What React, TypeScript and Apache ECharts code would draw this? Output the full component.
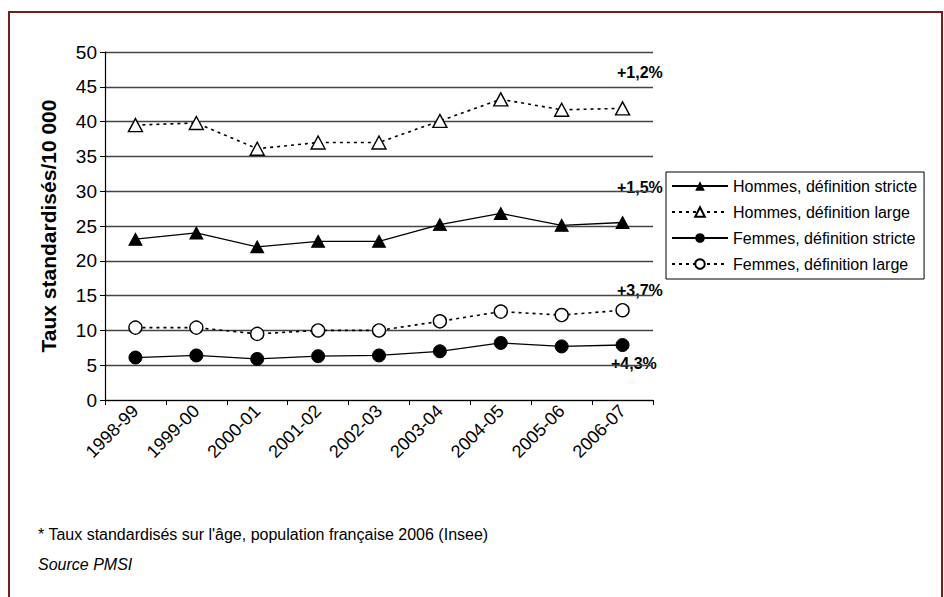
import React, { useEffect, useRef } from "react";
import * as echarts from "echarts";

// Campaign years (PMSI)
const categories = [
  "1998-99", "1999-00", "2000-01", "2001-02", "2002-03",
  "2003-04", "2004-05", "2005-06", "2006-07",
];

// Standardised rates per 10 000
const hommesStricte = [23.1, 24.0, 22.0, 22.8, 22.8, 25.2, 26.8, 25.1, 25.5];
const hommesLarge = [39.5, 39.8, 36.1, 37.0, 37.0, 40.1, 43.2, 41.7, 41.9];
const femmesStricte = [6.1, 6.4, 5.9, 6.3, 6.4, 7.0, 8.2, 7.7, 7.9];
const femmesLarge = [10.4, 10.4, 9.5, 10.0, 10.0, 11.3, 12.7, 12.2, 12.9];

const seriesNames = [
  "Hommes, définition stricte",
  "Hommes, définition large",
  "Femmes, définition stricte",
  "Femmes, définition large",
];

// Annual growth annotations
const growthLabels = ["+1,2%", "+1,5%", "+3,7%", "+4,3%"];

const yTitle = "Taux standardisés/10 000";
const footnote = "* Taux standardisés sur l'âge, population française 2006 (Insee)";
const source = "Source PMSI";

const FONT = "'Liberation Sans', Arial, sans-serif";

export default function App() {
  const ref = useRef<HTMLDivElement>(null);

  useEffect(() => {
    if (!ref.current) return;
    const chart = echarts.init(ref.current, undefined, { renderer: "svg" });

    const dotted = [3, 4];
    const solidLine = { color: "#000", width: 1.3, type: "solid" as const };
    const dottedLine = { color: "#000", width: 1.6, type: dotted };

    chart.setOption({
      animation: false,
      backgroundColor: "#fff",
      textStyle: { fontFamily: FONT },
      grid: { left: 105, right: 291, top: 52, bottom: 197, containLabel: false },
      legend: {
        orient: "vertical",
        left: 666,
        top: 172,
        padding: [6, 7, 7, 5],
        itemWidth: 56,
        itemHeight: 12,
        itemGap: 10,
        borderColor: "#000",
        borderWidth: 1,
        textStyle: { fontFamily: FONT, fontSize: 16, color: "#000" },
        data: seriesNames,
      },
      xAxis: {
        type: "category",
        data: categories,
        boundaryGap: true,
        axisLine: { lineStyle: { color: "#000", width: 1.2 } },
        axisTick: { show: true, length: 5, lineStyle: { color: "#000" } },
        axisLabel: {
          interval: 0,
          rotate: 45,
          margin: 8,
          fontSize: 18,
          color: "#000",
          fontFamily: FONT,
        },
        splitLine: { show: false },
      },
      yAxis: {
        type: "value",
        min: 0,
        max: 50,
        interval: 5,
        name: yTitle,
        nameLocation: "middle",
        nameGap: 46,
        nameTextStyle: {
          fontFamily: FONT,
          fontSize: 21,
          fontWeight: "bold",
          color: "#000",
        },
        axisLine: { show: true, lineStyle: { color: "#000", width: 1.2 } },
        axisTick: { show: true, length: 5, lineStyle: { color: "#000" } },
        axisLabel: { fontSize: 19, color: "#000", margin: 8, fontFamily: FONT },
        splitLine: { show: true, lineStyle: { color: "#444", width: 1.3 } },
      },
      series: [
        {
          name: seriesNames[0],
          type: "line",
          data: hommesStricte,
          symbol: "triangle",
          symbolSize: [13, 12],
          lineStyle: solidLine,
          itemStyle: { color: "#000", borderColor: "#000" },
        },
        {
          name: seriesNames[1],
          type: "line",
          data: hommesLarge,
          symbol: "triangle",
          symbolSize: [14, 13],
          lineStyle: dottedLine,
          itemStyle: { color: "#fff", borderColor: "#000", borderWidth: 1.4 },
        },
        {
          name: seriesNames[2],
          type: "line",
          data: femmesStricte,
          symbol: "circle",
          symbolSize: 13,
          lineStyle: solidLine,
          itemStyle: { color: "#000", borderColor: "#000" },
        },
        {
          name: seriesNames[3],
          type: "line",
          data: femmesLarge,
          symbol: "circle",
          symbolSize: 13,
          lineStyle: dottedLine,
          itemStyle: { color: "#fff", borderColor: "#000", borderWidth: 1.4 },
        },
      ],
      graphic: [
        {
          type: "rect",
          shape: { x: 9, y: 12, width: 933, height: 620 },
          style: { fill: "none", stroke: "#7a1d1d", lineWidth: 2 },
          silent: true,
        },
        ...[
          [617, 72],
          [617, 187],
          [617, 290],
          [611, 363],
        ].map(([x, y], i) => ({
          type: "text",
          x,
          y,
          style: {
            text: growthLabels[i],
            fontFamily: FONT,
            fontSize: 16,
            fontWeight: "bold",
            fill: "#000",
            verticalAlign: "middle",
          },
        })),
        {
          type: "text",
          x: 38,
          y: 534,
          style: {
            text: footnote,
            fontFamily: FONT,
            fontSize: 16,
            fill: "#000",
            verticalAlign: "middle",
          },
        },
        {
          type: "text",
          x: 38,
          y: 564,
          style: {
            text: source,
            fontFamily: FONT,
            fontSize: 16,
            fontStyle: "italic",
            fill: "#000",
            verticalAlign: "middle",
          },
        },
      ],
    });

    return () => chart.dispose();
  }, []);

  return (
    <div
      ref={ref}
      style={{ position: "fixed", left: 0, top: 0, width: 944, height: 597 }}
    />
  );
}
